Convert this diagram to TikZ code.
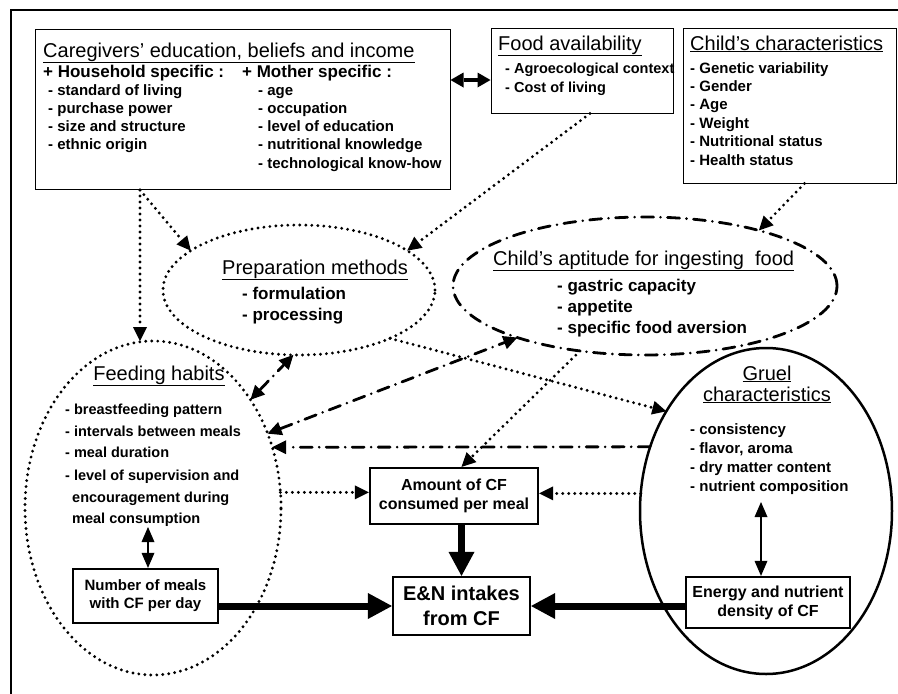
\documentclass[tikz,border=0pt]{standalone}
\usepackage{fontspec}
\setmainfont{Liberation Sans}
\usetikzlibrary{shapes.geometric,arrows.meta}
\begin{document}
\begin{tikzpicture}[x=1pt,y=-1pt,
  ttl/.style={font=\fontsize{20}{24}\selectfont, inner sep=0pt, anchor=base west},
  hdr/.style={font=\fontsize{17}{20}\selectfont\bfseries, inner sep=0pt, anchor=base west},
  itm/.style={font=\fontsize{15}{18}\selectfont\bfseries, inner sep=0pt, anchor=base west},
  itmb/.style={font=\fontsize{17}{20}\selectfont\bfseries, inner sep=0pt, anchor=base west},
  itms/.style={font=\fontsize{14.5}{18}\selectfont\bfseries, inner sep=0pt, anchor=base west},
  thinbox/.style={draw, line width=1pt, inner sep=0pt},
  thickbox/.style={draw, line width=2.2pt, fill=white, inner sep=0pt, align=center, font=\fontsize{16}{19}\selectfont\bfseries},
  ell/.style={ellipse, draw, inner sep=0pt, outer sep=0pt},
  dotln/.style={line width=3.2pt, dash pattern=on 0pt off 6pt, line cap=round},
  ddln/.style={line width=2.8pt, dash pattern=on 12pt off 7pt on 0pt off 7pt, line cap=round},
  tipS/.style={-{Triangle[length=14pt,width=14pt,line width=0pt]}},
  tipSS/.style={{Triangle[length=14pt,width=14pt,line width=0pt]}-{Triangle[length=14pt,width=14pt,line width=0pt]}},
  thk/.style={line width=7pt, -{Triangle[length=24pt,width=26pt,line width=0pt]}},
  dbl/.style={line width=2.6pt, {Triangle[length=15pt,width=13pt,line width=0pt]}-{Triangle[length=15pt,width=13pt,line width=0pt]}},
  dblthick/.style={line width=4pt, {Triangle[length=13pt,width=15pt,line width=0pt]}-{Triangle[length=13pt,width=15pt,line width=0pt]}}
]
\useasboundingbox (0,0) rectangle (898,694);
% outer frame (top and left only)
\draw[line width=1.5pt] (11,694) -- (11,10) -- (898,10);

% ---------- top boxes ----------
\node[thinbox, minimum width=415pt, minimum height=160pt] (care) at (242.5,109) {};
\node[ttl] (caret) at (43,57) {\underline{Caregivers’ education, beliefs and income}};
\node[hdr] (hh) at (43,77) {+ Household specific :};
\node[hdr] (mo) at (242,77) {+\ Mother specific :};
\foreach \t [count=\i] in {{- standard of living},{- purchase power},{- size and structure},{- ethnic origin}}
  \node[itm] (cl\i) at (48,{95+18.3*(\i-1)}) {\t};
\foreach \t [count=\i] in {{- age},{- occupation},{- level of education},{- nutritional knowledge},{- technological know-how}}
  \node[itm] (cr\i) at (258,{95+18.3*(\i-1)}) {\t};

\node[thinbox, minimum width=182pt, minimum height=85pt] (food) at (582,70.5) {};
\node[ttl] (foodt) at (498,50) {\underline{Food availability}};
\node[itms] (fa1) at (505,73) {- Agroecological context};
\node[itms] (fa2) at (505,92) {- Cost of living};

\node[thinbox, minimum width=213pt, minimum height=155pt] (child) at (789.5,105.5) {};
\node[ttl] (childt) at (690,50) {\underline{Child’s characteristics}};
\foreach \t [count=\i] in {{- Genetic variability},{- Gender},{- Age},{- Weight},{- Nutritional status},{- Health status}}
  \node[itm] (ch\i) at (690,{73+18.4*(\i-1)}) {\t};

% ---------- ellipses ----------
\node[ell, dotln, minimum width=272pt, minimum height=130pt] (prep) at (299,290) {};
\node[ttl] (prept) at (222,274) {\underline{Preparation methods}};
\node[itmb] (pr1) at (242,299.5) {- formulation};
\node[itmb] (pr2) at (242,320.5) {- processing};

\node[ell, ddln, minimum width=384pt, minimum height=138pt] (apt) at (645,286) {};
\node[ttl] (aptt) at (493,265) {\underline{Child’s aptitude for ingesting\ \ food}};
\node[itmb] (ap1) at (557,291) {- gastric capacity};
\node[itmb] (ap2) at (557,312) {- appetite};
\node[itmb] (ap3) at (557,333) {- specific food aversion};

\node[ell, dotln, minimum width=256pt, minimum height=334pt] (feed) at (153,508) {};
\node[ttl, anchor=base] (feedt) at (159,380) {\underline{Feeding habits}};
\node[itms] (fh1) at (65,414) {- breastfeeding pattern};
\node[itms] (fh2) at (65,436) {- intervals between meals};
\node[itms] (fh3) at (65,457) {- meal duration};
\node[itms] (fh4) at (65,480) {- level of supervision and};
\node[itms] (fh5) at (72,502) {encouragement during};
\node[itms] (fh6) at (72,523) {meal consumption};

\node[ell, line width=2.5pt, minimum width=252pt, minimum height=326pt] (gruel) at (766,511) {};
\node[ttl, anchor=base] (gr1) at (767,380) {\underline{Gruel}};
\node[ttl, anchor=base] (gr2) at (767,401) {\underline{characteristics}};
\foreach \t [count=\i] in {{- consistency},{- flavor, aroma},{- dry matter content},{- nutrient composition}}
  \node[itm] (gi\i) at (690,{434+19*(\i-1)}) {\t};

% ---------- bottom boxes ----------
\node[thickbox, minimum width=168pt, minimum height=56pt] (amount) at (454,496) {Amount of CF\\consumed per meal};
\node[thickbox, minimum width=137pt, minimum height=58pt, font=\fontsize{20}{25}\selectfont\bfseries] (en) at (461.5,606) {E\&N intakes\\from CF};
\node[thickbox, minimum width=145pt, minimum height=54pt, font=\fontsize{15}{18}\selectfont\bfseries] (num) at (145.5,596) {Number of meals\\with CF per day};
\node[thickbox, minimum width=164pt, minimum height=51pt] (energy) at (768,602.5) {Energy and nutrient\\density of CF};

% ---------- connectors ----------
\coordinate (careout) at (140,190);
\draw[dblthick] (care.east |- 0,80) -- (food.west |- 0,80);
\draw[dotln, tipS] (careout) -- (careout |- feed.north);
\draw[dotln, tipS] (careout) -- (prep.160);
\draw[dotln, tipS] ([xshift=8pt]food.south) -- (prep.20);
\draw[dotln, tipS] ([xshift=15pt]child.south) -- (apt.26);
\draw[ddln, tipSS] (feed.48) -- (prep.-95);
\draw[ddln, tipSS] (feed.33) -- (apt.202);
\draw[ddln, tipS] (gruel.151) -- (feed.27);
\draw[dotln, tipS] (prep.-28) -- (gruel.135);
\draw[dotln, tipS] (apt.225) -- (en.north |- amount.north);
\draw[dotln, tipS] (feed.7) -- (feed.7 -| amount.west);
\draw[dotln, tipS] (gruel.172) -- (gruel.172 -| amount.east);
\draw[thk] (en.north |- amount.south) -- (en.north);
\draw[thk] (en.west -| num.east) -- (en.west);
\draw[thk] (en.east -| energy.west) -- (en.east);
\coordinate (fhc) at (148,527);
\draw[dbl] (fhc) -- (fhc |- num.north);
\coordinate (grc) at (761,502);
\draw[dbl] (grc) -- (grc |- energy.north);
\end{tikzpicture}
\end{document}
